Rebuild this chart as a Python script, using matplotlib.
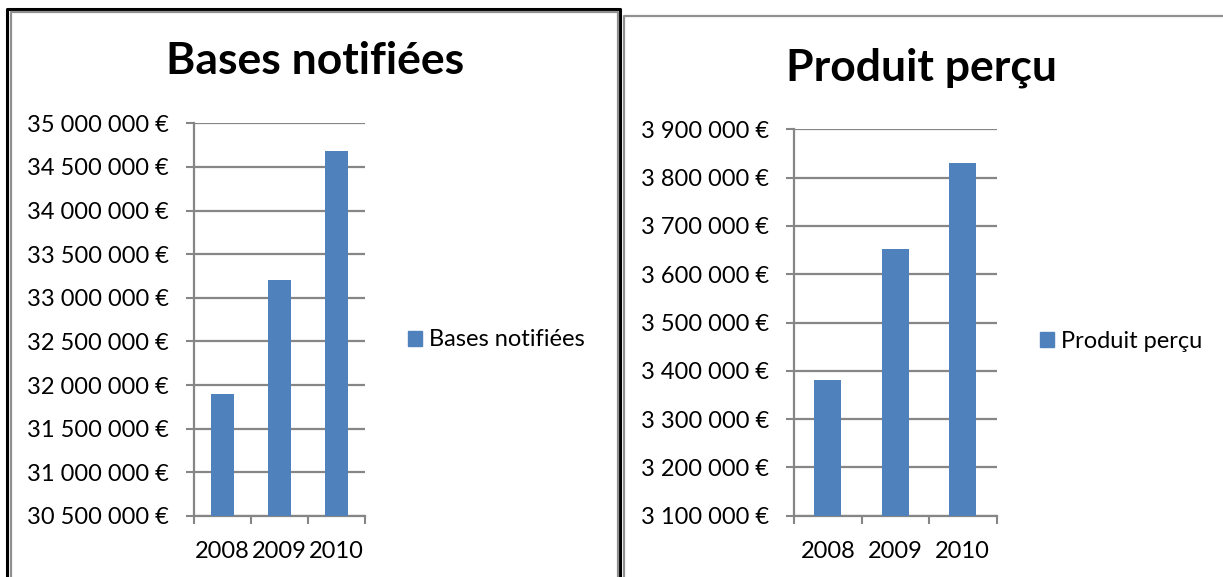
import matplotlib
matplotlib.use("Agg")
import matplotlib.pyplot as plt
from matplotlib.lines import Line2D
from matplotlib.patches import Patch
from matplotlib.ticker import FuncFormatter

years = ["2008", "2009", "2010"]
bases_notifiees = [31900000, 33200000, 34680000]
produit_percu = [3380000, 3653000, 3830000]
bases_ticks = [30500000 + 500000 * i for i in range(10)]
produit_ticks = [3100000 + 100000 * i for i in range(9)]

W, H = 1223, 577
fig = plt.figure(figsize=(W / 100, H / 100), dpi=100)
plt.rcParams['font.family'] = ['Lato', 'DejaVu Sans']

BAR = "#4F81BD"
GRID = "#868686"
FS = 17

def fmt(v, pos=None):
    s = f"{int(v):,}".replace(",", " ")
    return s + " €"

def px_axes(x0, x1, ytop, ybot):
    return fig.add_axes([x0 / W, 1 - ybot / H, (x1 - x0) / W, (ybot - ytop) / H])

def fline(xs, ys, color, lw):
    fig.add_artist(Line2D([x / W for x in xs], [1 - y / H for y in ys],
                          transform=fig.transFigure, color=color, lw=lw,
                          solid_capstyle='butt'))

# panel borders
fline([7, 7, 620, 620], [600, 9, 9, 600], "black", 2.2)
fline([11, 11, 617.5, 617.5], [600, 12, 12, 600], "#909090", 1.6)
fline([624, 624, 1240], [600, 16, 16], "#909090", 1.6)

def draw(ax, vals, ticks, title, tx, ty, legx, legy):
    x = list(range(len(years)))
    ax.bar(x, vals, width=0.4, color=BAR, zorder=3)
    ax.set_xlim(-0.5, len(years) - 0.5)
    ax.set_ylim(ticks[0], ticks[-1])
    ax.set_yticks(ticks)
    ax.yaxis.set_major_formatter(FuncFormatter(fmt))
    ax.set_xticks(x)
    ax.set_xticklabels(years)
    ax.set_xticks([-0.5 + i for i in range(len(years) + 1)], minor=True)
    ax.tick_params(axis='x', which='major', length=0, pad=18, labelsize=FS)
    ax.tick_params(axis='x', which='minor', length=6, width=1.5, color=GRID, direction='out')
    ax.tick_params(axis='y', length=6, width=1.5, color=GRID, pad=12, labelsize=FS)
    for s in ['top', 'right']:
        ax.spines[s].set_visible(False)
    for s in ['left', 'bottom']:
        ax.spines[s].set_color(GRID)
        ax.spines[s].set_linewidth(1.6)
    ax.grid(axis='y', color=GRID, lw=1.6, zorder=0)
    ax.set_axisbelow(True)
    ax.patch.set_alpha(0)
    fig.text(tx / W, 1 - ty / H, title, ha='center', va='center',
             fontsize=32, fontweight='bold')
    fig.legend(handles=[Patch(color=BAR, label=title)], loc='center left',
               bbox_to_anchor=(legx / W, 1 - legy / H), frameon=False,
               fontsize=FS, handlelength=0.6, handleheight=0.6,
               handletextpad=0.3, borderpad=0, borderaxespad=0)

ax1 = px_axes(194, 365, 123.3, 516)
draw(ax1, bases_notifiees, bases_ticks, "Bases notifiées", 315, 61, 408, 340)

ax2 = px_axes(794, 996.5, 129.3, 515.7)
draw(ax2, produit_percu, produit_ticks, "Produit perçu", 922, 68, 1040, 341)

fig.savefig("out.png", dpi=100)
